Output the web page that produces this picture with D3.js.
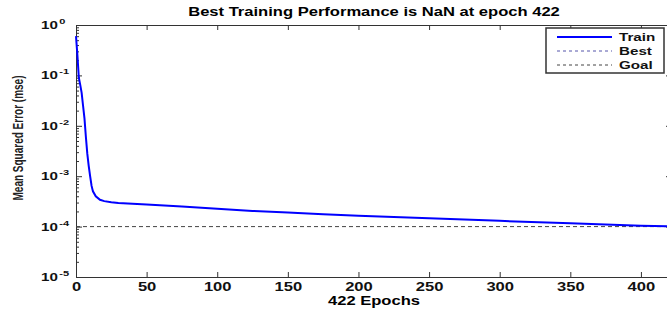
<!DOCTYPE html>
<html>
  <head>
    <meta charset="utf-8">
    <title>Best Training Performance</title>
    <script src="https://d3js.org/d3.v7.min.js"></script>
    <style>
      body { margin: 0; background: #fff; }
      svg { display: block; font-family: "Liberation Sans", Arial, sans-serif; }
      .axis path, .axis line { stroke: #333; }
      .axis text { font-size: 12px; font-weight: bold; fill: #111; }
    </style>
  </head>
  <body>
    <svg id="chart" width="667" height="311"></svg>
    <script>
      // data
      const epochs = [0, 1, 2, 3, 4, 5, 6, 7, 8, 9, 10, 11, 12, 14, 17, 20, 25, 30, 40, 50, 75, 100, 125, 150, 175, 200, 250, 300, 350, 400, 422];
      const trainMse = [0.6, 0.25, 0.09, 0.065, 0.045, 0.025, 0.014, 0.006, 0.0028, 0.0016, 0.001, 0.00065, 0.0005, 0.0004, 0.00034, 0.00032, 0.000303, 0.000295, 0.000285, 0.000275, 0.00025, 0.000225, 0.000205, 0.00019, 0.000175, 0.000165, 0.000147, 0.00013, 0.000116, 0.000104, 0.000101];
      const goal = 1e-4;
      const xTicks = [0, 50, 100, 150, 200, 250, 300, 350, 400];
      const yDecades = [0, -1, -2, -3, -4, -5];
      const legendNames = ["Train", "Best", "Goal"];
      const titleText = "Best Training Performance is NaN at epoch 422";
      const xLabel = "422 Epochs";
      const yLabel = "Mean Squared Error (mse)";

      // the reference is stretched sideways
      const sx = 1.38;
      const svg = d3.select("#chart");
      const plotL = 76, plotR = 672, plotT = 25, plotB = 277;

      const x = d3.scaleLinear().domain([0, 422]).range([plotL, plotR]);
      const y = d3.scaleLog().domain([1e-5, 1]).range([plotB, plotT]);

      const decades = yDecades.map(function(e) { return Math.pow(10, e); });
      const minors = [];
      decades.slice(0, -1).forEach(function(d) {
        for (let k = 2; k <= 9; k++) minors.push(d / 10 * k);
      });

      // axes box with inward ticks
      svg.append("g").attr("class", "axis")
        .attr("transform", "translate(0," + plotB + ")")
        .call(d3.axisBottom(x).tickValues(xTicks).tickSizeInner(-5).tickSizeOuter(0).tickPadding(5))
        .selectAll("text")
          .attr("transform", "scale(" + sx + ",1)");
      svg.append("g").attr("class", "axis")
        .attr("transform", "translate(0," + plotT + ")")
        .call(d3.axisTop(x).tickValues(xTicks).tickSizeInner(-5).tickSizeOuter(0).tickFormat(""));
      svg.append("g").attr("class", "axis")
        .attr("transform", "translate(" + plotL + ",0)")
        .call(d3.axisLeft(y).tickValues(decades).tickSizeInner(-6).tickSizeOuter(0).tickFormat(""));
      svg.append("g").attr("class", "axis")
        .attr("transform", "translate(" + plotL + ",0)")
        .call(d3.axisLeft(y).tickValues(minors).tickSizeInner(-3).tickSizeOuter(0).tickFormat(""));
      svg.append("g").attr("class", "axis")
        .attr("transform", "translate(" + plotR + ",0)")
        .call(d3.axisRight(y).tickValues(decades).tickSizeInner(-6).tickSizeOuter(0).tickFormat(""));
      svg.append("g").attr("class", "axis")
        .attr("transform", "translate(" + plotR + ",0)")
        .call(d3.axisRight(y).tickValues(minors).tickSizeInner(-3).tickSizeOuter(0).tickFormat(""));

      // y tick labels as 10 with exponent
      const yLab = svg.append("g").selectAll("text")
          .data(yDecades)
        .enter().append("text")
          .attr("transform", function(e) { return "translate(41," + (y(Math.pow(10, e)) + 4) + ") scale(" + sx + ",1)"; })
          .style("font-size", "11px")
          .style("font-weight", "bold")
          .style("fill", "#111");
      yLab.append("tspan").text("10");
      yLab.append("tspan")
        .attr("dy", -5)
        .attr("dx", 1)
        .style("font-size", "8px")
        .text(function(e) { return e; });

      // goal line
      svg.append("line")
        .attr("x1", plotL).attr("x2", plotR)
        .attr("y1", y(goal)).attr("y2", y(goal))
        .attr("stroke", "#444")
        .attr("stroke-width", 1)
        .attr("stroke-dasharray", "4,3");

      // train curve
      const line = d3.line()
        .x(function(d, i) { return x(epochs[i]); })
        .y(function(d) { return y(d); });
      svg.append("path")
        .datum(trainMse)
        .attr("d", line)
        .attr("fill", "none")
        .attr("stroke", "#0000ff")
        .attr("stroke-width", 2);

      // titles
      svg.append("text")
        .attr("transform", "translate(" + (plotL + plotR) / 2 + ",16) scale(" + sx + ",1)")
        .attr("text-anchor", "middle")
        .style("font-size", "12px")
        .style("font-weight", "bold")
        .text(titleText);
      svg.append("text")
        .attr("transform", "translate(" + (plotL + plotR) / 2 + ",305) scale(" + sx + ",1)")
        .attr("text-anchor", "middle")
        .style("font-size", "12px")
        .style("font-weight", "bold")
        .text(xLabel);
      svg.append("text")
        .attr("transform", "translate(23,138) scale(" + sx + ",1) rotate(-90)")
        .attr("text-anchor", "middle")
        .style("font-size", "10px")
        .style("font-weight", "bold")
        .style("fill", "#222")
        .text(yLabel);

      // legend
      const legend = svg.append("g");
      legend.append("rect")
        .attr("x", 546).attr("y", 28)
        .attr("width", 118).attr("height", 45)
        .attr("fill", "#fff")
        .attr("stroke", "#333")
        .attr("stroke-width", 1.5);
      const legendStyles = [
        { color: "#0000ff", width: 2, dash: null },
        { color: "#5555aa", width: 1, dash: "3,3" },
        { color: "#444", width: 1, dash: "3,3" }
      ];
      const rows = legend.selectAll(".row")
          .data(legendNames)
        .enter().append("g")
          .attr("transform", function(d, i) { return "translate(0," + (37 + i * 14) + ")"; });
      rows.append("line")
        .attr("x1", 557).attr("x2", 612)
        .attr("stroke", function(d, i) { return legendStyles[i].color; })
        .attr("stroke-width", function(d, i) { return legendStyles[i].width; })
        .attr("stroke-dasharray", function(d, i) { return legendStyles[i].dash; });
      rows.append("text")
        .attr("transform", "translate(619,4) scale(" + sx + ",1)")
        .style("font-size", "11px")
        .style("font-weight", "bold")
        .style("fill", "#111")
        .text(function(d) { return d; });
    </script>
  </body>
</html>
